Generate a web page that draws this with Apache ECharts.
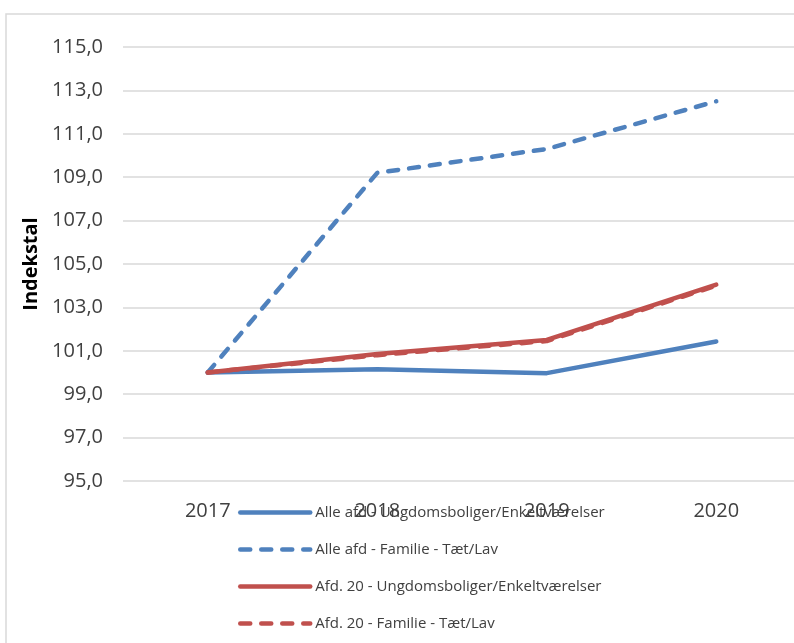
<style>body { margin: 0; }</style>
<script src="https://cdnjs.cloudflare.com/ajax/libs/echarts/6.0.0/echarts.min.js"></script>
<div id="myChart" style="width:794px;height:643px;"></div>
<script type="text/javascript">

  // data
  var years = ["2017", "2018", "2019", "2020"];
  var seriesNames = [
    "Alle afd - Ungdomsboliger/Enkeltværelser",
    "Alle afd - Familie - Tæt/Lav",
    "Afd. 20 - Ungdomsboliger/Enkeltværelser",
    "Afd. 20 - Familie - Tæt/Lav"
  ];
  var alleUngdom = [100.0, 100.15, 99.97, 101.43];
  var alleFamilie = [100.0, 109.2, 110.3, 112.5];
  var afd20Ungdom = [100.0, 100.85, 101.5, 104.05];
  var afd20Familie = [100.0, 100.8, 101.45, 104.0];

  var blue = "#4F81BD";
  var red = "#C0504D";
  var txt = "#404040";
  var font = "'Open Sans', 'Noto Sans', sans-serif";

  var chartDom = document.getElementById("myChart");
  var myChart = echarts.init(chartDom);

  function makeLine(name, data, color, dashed) {
    return {
      name: name,
      type: "line",
      data: data,
      symbol: "none",
      smooth: false,
      lineStyle: {
        color: color,
        width: 4.5,
        type: dashed ? [10, 11] : "solid",
        cap: "round",
        join: "round"
      },
      itemStyle: { color: color }
    };
  }

  var option = {
    backgroundColor: "#fff",
    animation: false,
    textStyle: { fontFamily: font },
    graphic: [{
      type: "rect",
      shape: { x: 6, y: 14, width: 800, height: 640 },
      style: { fill: null, stroke: "#D9D9D9", lineWidth: 1.5 },
      silent: true
    }],
    grid: { left: 123, right: -7, top: 47, bottom: 162, containLabel: false, outerBoundsMode: "none" },
    legend: {
      orient: "vertical",
      left: 233,
      top: 500,
      itemWidth: 70,
      itemHeight: 14,
      itemGap: 22,
      itemStyle: { opacity: 0 },
      lineStyle: { width: 4.5, cap: "round" },
      textStyle: { color: txt, fontSize: 15, fontFamily: font },
      data: seriesNames
    },
    xAxis: {
      type: "category",
      data: years,
      boundaryGap: true,
      axisLine: { show: false },
      axisTick: { show: false },
      axisLabel: { color: txt, fontSize: 20, margin: 20, fontFamily: font }
    },
    yAxis: {
      type: "value",
      min: 95,
      max: 115,
      interval: 2,
      name: "Indekstal",
      nameLocation: "middle",
      nameRotate: 90,
      nameGap: 82,
      nameTextStyle: { color: "#000", fontSize: 20, fontWeight: "bold", fontFamily: font },
      axisLine: { show: false },
      axisTick: { show: false },
      splitLine: { lineStyle: { color: "#D9D9D9", width: 1.5 } },
      axisLabel: {
        color: txt,
        fontSize: 20,
        margin: 20,
        fontFamily: font,
        formatter: function (v) { return v.toFixed(1).replace(".", ","); }
      }
    },
    series: [
      makeLine(seriesNames[0], alleUngdom, blue, false),
      makeLine(seriesNames[1], alleFamilie, blue, true),
      makeLine(seriesNames[2], afd20Ungdom, red, false),
      makeLine(seriesNames[3], afd20Familie, red, true)
    ]
  };

  option && myChart.setOption(option);
</script>
